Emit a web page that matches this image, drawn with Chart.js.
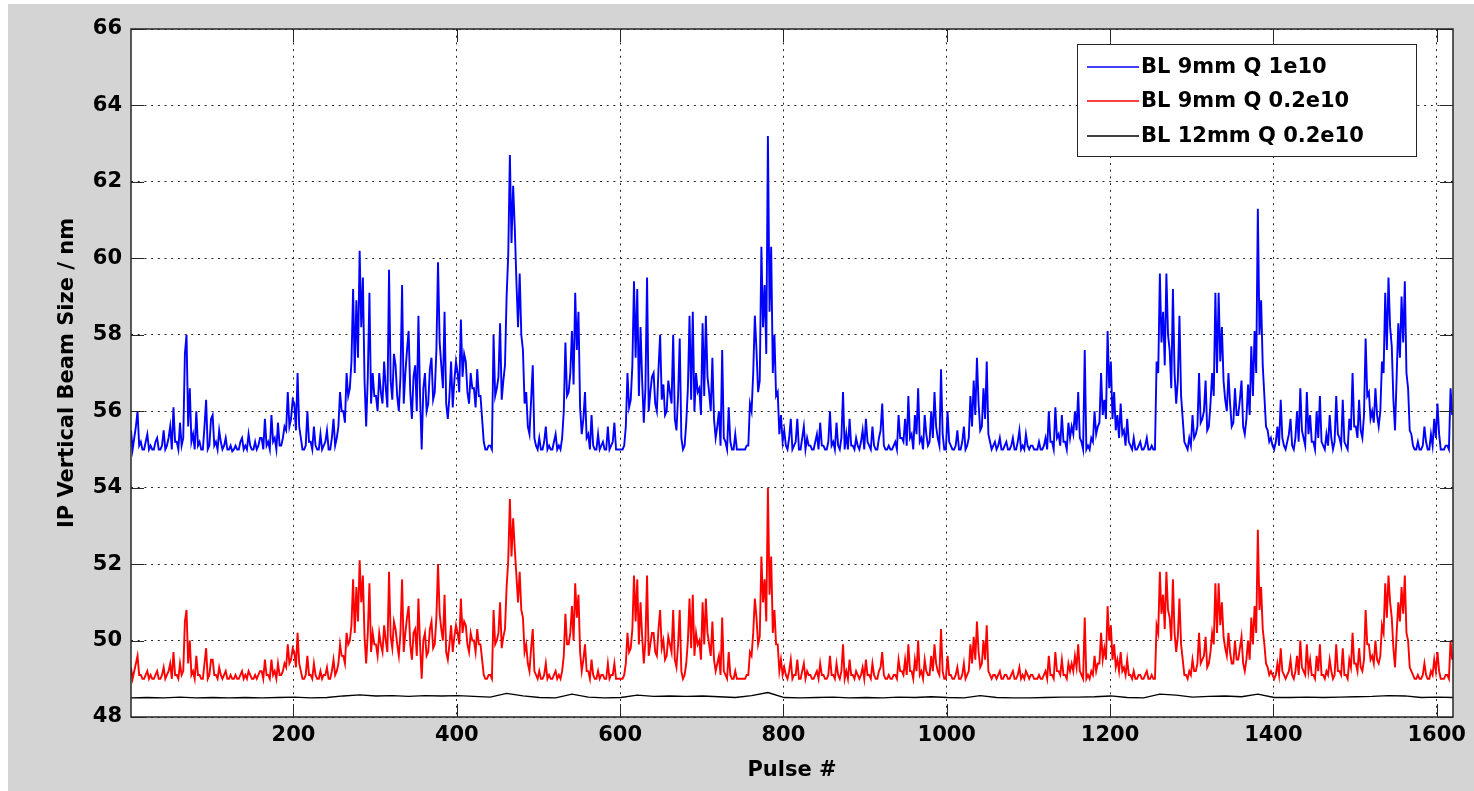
<!DOCTYPE html>
<html>
<head>
<meta charset="utf-8">
<title>IP Vertical Beam Size</title>
<script src="https://cdn.jsdelivr.net/npm/chart.js@4.4.1/dist/chart.umd.min.js"></script>
<style>
  html, body { margin: 0; padding: 0; background: #ffffff; }
  #frame { position: absolute; left: 8px; top: 4px; width: 1466px; height: 787px; background: #d4d4d4; }
  #chart-1 { position: absolute; left: 0; top: 0; }
</style>
</head>
<body>
<div id="frame"></div>
<canvas id="chart-1" width="1474" height="791"></canvas>
<script>
/************************ data ***************************************************/
const seriesLabels = ["BL 9mm Q 1e10", "BL 9mm Q 0.2e10", "BL 12mm Q 0.2e10"];
const seriesColors = ["#0000ff", "#ff0000", "#000000"];
const xTickValues = [200, 400, 600, 800, 1000, 1200, 1400, 1600];
const yTickValues = [48, 50, 52, 54, 56, 58, 60, 62, 64, 66];

// one value every 2 pulses, starting at pulse 1 (one row = 100 pulses)
const pulseStep = 2;
const blueSize = [
  55.5,55.0,55.3,55.6,56.0,55.1,55.2,55.0,55.0,55.2,55.4,55.0,55.1,55.0,55.0,55.2,55.3,55.0,55.0,55.1,55.5,55.0,55.1,55.3,55.6,55.0,56.1,55.2,55.2,55.0,55.7,55.1,55.3,57.5,58.0,55.6,56.6,55.2,55.4,55.0,56.0,55.1,55.2,55.0,55.0,55.6,56.3,55.0,55.1,55.8,
  55.9,55.1,55.2,55.0,55.5,55.2,55.0,55.1,55.3,55.0,55.0,55.1,54.95,55.0,55.1,55.0,55.0,55.2,55.3,55.0,55.1,55.0,55.4,55.1,55.0,55.0,55.2,55.0,55.1,55.3,55.3,55.0,55.8,55.1,55.2,55.0,55.9,55.2,55.3,55.0,55.7,55.1,55.1,55.3,55.6,55.5,56.5,55.6,55.8,56.3,
  56.2,55.5,57.0,55.6,55.3,55.0,55.0,55.1,56.0,55.2,55.2,55.0,55.6,55.1,55.0,55.0,55.4,55.0,55.1,55.2,55.5,55.0,55.0,55.3,55.8,55.1,55.3,55.6,56.5,56.0,56.0,55.7,57.0,56.4,56.6,57.3,59.2,57.0,58.9,57.4,60.2,58.2,59.5,56.8,55.6,56.9,59.1,56.2,57.0,56.4,
  56.4,56.0,57.0,56.5,56.2,57.3,56.6,56.1,59.7,56.8,56.3,57.5,57.2,56.4,56.0,56.9,59.3,56.2,57.0,57.6,58.1,56.5,55.8,56.9,57.2,56.0,58.5,56.4,55.0,56.6,57.0,56.0,56.2,57.1,57.4,56.3,56.5,57.6,59.9,57.8,57.2,56.6,58.6,56.2,55.8,56.4,57.3,56.1,56.8,57.3,
  57.0,56.5,58.4,56.9,57.5,57.3,56.5,56.2,57.0,56.6,56.6,56.1,57.1,56.4,56.4,55.8,55.2,55.0,55.0,55.1,55.1,55.0,58.0,56.4,56.6,56.9,58.3,56.3,56.8,57.2,59.0,60.1,62.7,60.4,61.9,60.8,59.4,58.2,59.6,58.0,57.6,56.2,56.5,55.6,55.4,56.3,57.2,55.3,55.1,55.0,
  55.3,55.0,55.0,55.2,55.6,55.0,55.1,55.0,55.0,55.2,55.4,55.0,55.1,55.0,55.3,56.0,57.8,56.4,56.5,57.0,58.1,56.7,59.1,57.6,58.6,56.1,55.4,55.8,56.5,55.3,55.4,55.0,55.9,55.1,55.0,55.0,55.4,55.0,55.1,55.2,55.0,55.0,55.6,55.0,55.1,55.2,55.7,55.0,55.0,55.0,
  55.0,55.0,55.1,55.6,57.0,56.1,56.3,57.2,59.4,57.4,59.2,56.4,58.2,56.8,55.7,56.6,59.5,56.0,56.5,56.9,57.0,56.2,56.0,57.1,58.0,56.3,56.7,55.9,56.0,56.8,56.5,56.2,58.0,55.8,55.5,56.4,57.9,55.3,55.0,55.1,55.7,56.6,58.5,56.3,58.6,56.0,57.0,56.5,56.6,55.9,
  58.3,56.4,58.5,56.9,56.5,56.0,57.4,55.8,55.3,55.6,56.0,55.1,57.6,55.3,55.2,55.0,56.1,55.2,55.0,55.0,55.4,55.0,55.0,55.0,55.0,55.0,55.0,55.1,55.1,56.2,56.0,57.0,58.5,57.6,56.5,56.8,60.3,58.2,59.3,57.5,63.2,58.6,60.3,57.0,58.0,56.4,56.5,55.4,55.9,55.2,
  55.5,55.1,55.0,55.3,55.8,55.0,55.1,55.2,55.8,55.0,55.0,55.3,55.6,55.0,55.3,55.1,55.1,55.0,55.0,55.2,55.4,55.0,55.7,55.1,55.1,55.0,55.0,55.2,56.0,55.1,55.2,55.0,55.7,55.1,55.0,55.3,56.5,55.0,55.4,55.0,55.8,55.1,55.1,55.0,55.3,55.1,55.0,55.2,55.5,55.0,
  55.8,55.2,55.1,55.0,55.6,55.1,55.0,55.0,55.3,55.5,56.2,55.1,55.0,55.0,55.1,55.0,55.0,55.1,55.2,55.0,55.9,55.3,55.3,55.2,55.8,55.1,56.4,55.3,55.4,55.0,55.9,55.4,56.6,55.2,55.3,55.0,55.9,55.4,55.1,55.2,56.0,55.3,56.5,55.6,55.3,55.1,57.1,55.4,55.0,55.0,
  56.0,55.2,55.1,55.0,55.0,55.1,55.5,55.0,55.0,55.2,55.6,55.0,55.1,55.3,56.4,55.6,56.8,55.9,57.4,56.2,55.5,55.6,56.6,55.8,57.3,55.4,55.2,55.0,55.1,55.2,55.0,55.1,55.3,55.0,55.0,55.1,55.2,55.0,55.0,55.1,55.3,55.0,55.0,55.2,55.5,55.0,55.1,55.0,55.4,55.1,
  55.0,55.1,55.1,55.0,55.0,55.0,55.2,55.0,55.0,55.1,55.3,55.0,56.0,55.2,55.2,55.0,56.1,55.3,55.4,55.1,55.9,55.2,55.2,55.0,55.7,55.3,55.6,55.4,56.0,55.5,56.5,55.3,55.2,55.0,57.6,55.0,55.1,55.0,55.3,55.2,56.0,55.4,55.6,55.7,57.0,55.9,56.3,55.8,58.1,56.6,
  57.3,55.8,56.5,55.5,55.9,55.3,56.2,55.4,55.5,55.1,55.8,55.2,55.1,55.0,55.3,55.0,55.0,55.1,55.2,55.0,55.0,55.1,55.3,55.0,55.0,55.1,55.0,55.0,57.3,57.0,59.6,57.8,58.6,57.2,59.6,58.0,57.6,56.6,59.2,57.0,56.2,56.8,58.5,56.4,55.8,55.2,55.1,55.0,55.3,55.1,
  55.9,55.3,55.4,55.6,57.0,55.7,55.8,56.0,56.8,55.5,55.6,56.2,57.0,56.4,59.1,57.0,59.1,57.3,58.2,56.8,56.3,56.0,57.0,56.2,55.6,55.7,56.6,55.9,55.9,56.3,56.8,55.6,55.4,55.8,56.7,55.9,57.7,56.4,58.1,57.0,61.3,58.0,58.9,57.2,56.4,55.6,55.5,55.2,55.3,55.1,
  55.0,55.2,55.6,55.1,56.3,55.3,55.1,55.0,55.2,55.4,55.8,55.1,55.0,55.3,56.0,55.2,56.6,55.5,55.3,55.1,56.5,55.4,55.9,55.2,55.2,55.0,56.0,55.3,56.4,55.2,55.1,55.0,55.4,55.1,55.9,55.3,55.0,55.2,56.4,55.4,55.3,55.1,56.3,55.2,55.1,55.0,55.8,55.5,57.0,55.6,
  55.6,55.3,56.3,55.5,55.3,55.9,57.9,56.4,56.5,55.8,56.0,55.7,56.6,55.9,55.6,56.0,57.3,57.0,59.1,57.6,59.5,58.2,57.7,56.3,55.5,56.9,58.3,57.4,59.0,57.8,59.4,57.0,56.6,55.5,55.4,55.1,55.0,55.0,55.2,55.0,55.0,55.1,55.6,55.2,55.0,55.0,55.4,55.1,55.8,55.3,
  56.2,55.4,55.0,55.0,55.0,55.1,55.1,55.0,56.6,55.9
];
const redSize = [
  49.3,49.0,49.2,49.4,49.6,49.1,49.1,49.0,49.0,49.1,49.2,49.0,49.1,49.0,49.0,49.1,49.2,49.0,49.0,49.1,49.3,49.0,49.1,49.2,49.4,49.0,49.7,49.1,49.1,49.0,49.4,49.1,49.2,50.5,50.8,49.4,50.0,49.1,49.2,49.0,49.6,49.1,49.1,49.0,49.0,49.4,49.8,49.0,49.1,49.5,
  49.5,49.1,49.1,49.0,49.3,49.1,49.0,49.1,49.2,49.0,49.0,49.1,49.0,49.0,49.1,49.0,49.0,49.1,49.2,49.0,49.1,49.0,49.2,49.1,49.0,49.0,49.1,49.0,49.1,49.2,49.2,49.0,49.5,49.1,49.1,49.0,49.5,49.1,49.2,49.0,49.4,49.1,49.1,49.2,49.4,49.3,49.9,49.4,49.5,49.8,
  49.7,49.3,50.2,49.4,49.2,49.0,49.0,49.1,49.6,49.1,49.1,49.0,49.4,49.1,49.0,49.0,49.2,49.0,49.1,49.1,49.3,49.0,49.0,49.2,49.5,49.1,49.2,49.4,49.9,49.6,49.6,49.4,50.2,49.9,50.0,50.4,51.6,50.2,51.4,50.5,52.1,51.0,51.7,50.1,49.4,50.2,51.5,49.7,50.2,49.9,
  49.9,49.6,50.2,49.9,49.7,50.4,50.0,49.7,51.8,50.1,49.8,50.5,50.3,49.9,49.6,50.2,51.6,49.7,50.2,50.6,50.9,49.9,49.5,50.2,50.3,49.6,51.1,49.9,49.0,50.0,50.2,49.6,49.7,50.3,50.5,49.8,49.9,50.6,52.0,50.7,50.3,50.0,51.2,49.7,49.5,49.9,50.4,49.7,50.1,50.4,
  50.2,49.9,51.1,50.2,50.5,50.4,49.9,49.7,50.2,50.0,50.0,49.7,50.3,49.9,49.9,49.5,49.1,49.0,49.0,49.1,49.1,49.0,50.8,49.9,50.0,50.2,51.0,49.8,50.1,50.3,51.4,52.1,53.7,52.2,53.2,52.4,51.7,51.0,51.8,50.8,50.6,49.7,49.9,49.4,49.2,49.8,50.3,49.2,49.1,49.0,
  49.2,49.0,49.0,49.1,49.4,49.0,49.1,49.0,49.0,49.1,49.2,49.0,49.1,49.0,49.2,49.6,50.7,49.9,49.9,50.2,50.9,50.0,51.5,50.6,51.2,49.7,49.2,49.5,49.9,49.2,49.2,49.0,49.5,49.1,49.0,49.0,49.2,49.0,49.1,49.1,49.0,49.0,49.4,49.0,49.1,49.1,49.4,49.0,49.0,49.0,
  49.0,49.0,49.1,49.4,50.2,49.7,49.8,50.3,51.7,50.5,51.6,49.9,51.0,50.1,49.4,50.0,51.7,49.6,49.9,50.2,50.2,49.7,49.6,50.3,50.8,49.8,50.0,49.5,49.6,50.1,49.9,49.7,50.8,49.5,49.3,49.9,50.8,49.2,49.0,49.1,49.4,50.0,51.1,49.8,51.2,49.6,50.2,49.9,50.0,49.5,
  51.0,49.9,51.1,50.2,49.9,49.6,50.5,49.5,49.2,49.4,49.6,49.1,50.6,49.2,49.1,49.0,49.7,49.1,49.0,49.0,49.2,49.0,49.0,49.0,49.0,49.0,49.0,49.1,49.1,49.7,49.6,50.2,51.1,50.6,49.9,50.1,52.2,51.0,51.6,50.5,54.0,51.2,52.2,50.2,50.8,49.9,49.9,49.2,49.5,49.1,
  49.3,49.1,49.0,49.2,49.5,49.0,49.1,49.1,49.5,49.0,49.0,49.2,49.4,49.0,49.2,49.1,49.1,49.0,49.0,49.1,49.2,49.0,49.4,49.1,49.1,49.0,49.0,49.1,49.6,49.1,49.1,49.0,49.4,49.1,49.0,49.2,49.9,49.0,49.2,49.0,49.5,49.1,49.1,49.0,49.2,49.1,49.0,49.1,49.3,49.0,
  49.5,49.1,49.1,49.0,49.4,49.1,49.0,49.0,49.2,49.3,49.7,49.1,49.0,49.0,49.1,49.0,49.0,49.1,49.1,49.0,49.5,49.2,49.2,49.1,49.5,49.1,49.9,49.2,49.2,49.0,49.5,49.2,50.0,49.1,49.2,49.0,49.5,49.2,49.1,49.1,49.6,49.2,49.9,49.4,49.2,49.1,50.3,49.2,49.0,49.0,
  49.6,49.1,49.1,49.0,49.0,49.1,49.3,49.0,49.0,49.1,49.4,49.0,49.1,49.2,49.9,49.4,50.1,49.5,50.5,49.7,49.3,49.4,50.0,49.5,50.4,49.2,49.1,49.0,49.1,49.1,49.0,49.1,49.2,49.0,49.0,49.1,49.1,49.0,49.0,49.1,49.2,49.0,49.0,49.1,49.3,49.0,49.1,49.0,49.2,49.1,
  49.0,49.1,49.1,49.0,49.0,49.0,49.1,49.0,49.0,49.1,49.2,49.0,49.6,49.1,49.1,49.0,49.7,49.2,49.2,49.1,49.5,49.1,49.1,49.0,49.4,49.2,49.4,49.2,49.6,49.3,49.9,49.2,49.1,49.0,50.6,49.0,49.1,49.0,49.2,49.1,49.6,49.2,49.4,49.4,50.2,49.5,49.8,49.5,50.9,50.0,
  50.4,49.5,49.9,49.3,49.5,49.2,49.7,49.2,49.3,49.1,49.5,49.1,49.1,49.0,49.2,49.0,49.0,49.1,49.1,49.0,49.0,49.1,49.2,49.0,49.0,49.1,49.0,49.0,50.4,50.2,51.8,50.7,51.2,50.3,51.8,50.8,50.6,50.0,51.6,50.2,49.7,50.1,51.1,49.9,49.5,49.1,49.1,49.0,49.2,49.1,
  49.5,49.2,49.2,49.4,50.2,49.4,49.5,49.6,50.1,49.3,49.4,49.7,50.2,49.9,51.5,50.2,51.5,50.4,51.0,50.1,49.8,49.6,50.2,49.7,49.4,49.4,50.0,49.5,49.5,49.8,50.1,49.4,49.2,49.5,50.0,49.5,50.6,49.9,50.9,50.2,52.9,50.8,51.4,50.3,49.9,49.4,49.3,49.1,49.2,49.1,
  49.0,49.1,49.4,49.1,49.8,49.2,49.1,49.0,49.1,49.2,49.5,49.1,49.0,49.2,49.6,49.1,50.0,49.3,49.2,49.1,49.9,49.2,49.5,49.1,49.1,49.0,49.6,49.2,49.9,49.1,49.1,49.0,49.2,49.1,49.5,49.2,49.0,49.1,49.9,49.2,49.2,49.1,49.8,49.1,49.1,49.0,49.5,49.3,50.2,49.4,
  49.4,49.2,49.8,49.3,49.2,49.5,50.8,49.9,49.9,49.5,49.6,49.4,50.0,49.5,49.4,49.6,50.4,50.2,51.5,50.6,51.7,51.0,50.6,49.8,49.3,50.2,51.0,50.5,51.4,50.7,51.7,50.2,50.0,49.3,49.2,49.1,49.0,49.0,49.1,49.0,49.0,49.1,49.4,49.1,49.0,49.0,49.2,49.1,49.5,49.2,
  49.7,49.2,49.0,49.0,49.0,49.1,49.1,49.0,50.0,49.5
];
// black trace is nearly flat, one value every 20 pulses
const blackStep = 20;
const blackSize = [
  48.50,48.51,48.50,48.52,48.50,48.51,48.50,48.51,48.50,48.51,
  48.52,48.50,48.51,48.55,48.58,48.55,48.56,48.54,48.56,48.55,
  48.56,48.54,48.52,48.62,48.55,48.51,48.50,48.60,48.52,48.50,
  48.51,48.57,48.54,48.55,48.54,48.55,48.53,48.51,48.56,48.64,
  48.51,48.50,48.51,48.52,48.50,48.51,48.50,48.52,48.51,48.53,
  48.51,48.50,48.56,48.51,48.50,48.50,48.51,48.52,48.52,48.53,
  48.55,48.51,48.50,48.60,48.57,48.52,48.54,48.55,48.53,48.60,
  48.51,48.51,48.52,48.51,48.52,48.53,48.54,48.56,48.55,48.51,
  48.52,48.51
];

const pulses = blueSize.map((_, i) => 1 + i * pulseStep);
const blackPulses = blackSize.map((_, i) => 1 + i * blackStep);

function toPoints(xs, ys) {
  return ys.map((y, i) => ({ x: xs[i], y: y }));
}

/************************ axes box, inward ticks and legend *********************/
const axisColor = "#262626";
const gridDash = [2, 4.7];
const textFont = { family: "DejaVu Sans", size: 21, weight: "bold" };

const matlabAxes = {
  id: "matlabAxes",
  beforeDraw(chart) {
    const { ctx, chartArea: a } = chart;
    ctx.save();
    ctx.fillStyle = "#ffffff";
    ctx.fillRect(a.left, a.top, a.right - a.left, a.bottom - a.top);
    ctx.restore();
  },
  afterDraw(chart) {
    const { ctx, chartArea: a, scales } = chart;
    const tick = 13;
    ctx.save();
    ctx.setLineDash([]);
    ctx.strokeStyle = axisColor;
    ctx.lineWidth = 1;
    ctx.beginPath();
    xTickValues.forEach(v => {
      const px = Math.round(scales.x.getPixelForValue(v)) + 0.5;
      ctx.moveTo(px, a.bottom); ctx.lineTo(px, a.bottom - tick);
      ctx.moveTo(px, a.top); ctx.lineTo(px, a.top + tick);
    });
    yTickValues.forEach(v => {
      const py = Math.round(scales.y.getPixelForValue(v)) + 0.5;
      ctx.moveTo(a.left, py); ctx.lineTo(a.left + tick, py);
      ctx.moveTo(a.right, py); ctx.lineTo(a.right - tick, py);
    });
    ctx.stroke();
    ctx.lineWidth = 1.5;
    ctx.strokeRect(a.left, a.top, a.right - a.left, a.bottom - a.top);

    // legend box, top right inside the axes
    const bw = 339, bh = 112;
    const bx = a.right - 376, by = a.top + 15;
    ctx.fillStyle = "#ffffff";
    ctx.fillRect(bx, by, bw, bh);
    ctx.lineWidth = 1;
    ctx.strokeStyle = axisColor;
    ctx.strokeRect(bx + 0.5, by + 0.5, bw, bh);
    const rowY = [23, 57, 92];
    ctx.font = "bold 21px 'DejaVu Sans'";
    ctx.textBaseline = "middle";
    ctx.textAlign = "left";
    seriesLabels.forEach((label, i) => {
      const y = Math.round(by + rowY[i]);
      ctx.lineWidth = 1.6;
      ctx.strokeStyle = seriesColors[i];
      ctx.beginPath();
      ctx.moveTo(bx + 10, y);
      ctx.lineTo(bx + 62, y);
      ctx.stroke();
      ctx.fillStyle = "#000000";
      ctx.fillText(label, bx + 64, y + 1);
    });
    ctx.restore();
  }
};

/************************* CHART INITIALIZATION ******************************/
const ctxA = document.getElementById("chart-1").getContext("2d");
const myChart1 = new Chart(ctxA, {
  type: "line",
  data: {
    datasets: [
      { label: seriesLabels[0], data: toPoints(pulses, blueSize), borderColor: seriesColors[0], borderWidth: 1.9 },
      { label: seriesLabels[1], data: toPoints(pulses, redSize), borderColor: seriesColors[1], borderWidth: 1.9 },
      { label: seriesLabels[2], data: toPoints(blackPulses, blackSize), borderColor: seriesColors[2], borderWidth: 1.3 },
    ],
  },
  options: {
    responsive: false,
    animation: false,
    elements: { point: { radius: 0 }, line: { tension: 0, fill: false, borderJoinStyle: "miter" } },
    layout: { padding: { top: 29, right: 21, left: 0, bottom: 0 } },
    plugins: { legend: { display: false }, tooltip: { enabled: false } },
    scales: {
      x: {
        type: "linear",
        min: 1,
        max: 1620,
        afterBuildTicks: (s) => { s.ticks = xTickValues.map(v => ({ value: v })); },
        afterFit: (s) => { s.height = 74; },
        grid: { color: axisColor, lineWidth: 1, drawTicks: false, borderDash: gridDash },
        border: { display: false, dash: gridDash },
        ticks: { color: "#000000", font: textFont, padding: 6, maxRotation: 0, callback: (v) => String(v) },
        title: { display: true, text: "Pulse #", color: "#000000", font: textFont, padding: { top: 0, bottom: 8 } },
      },
      y: {
        min: 48,
        max: 66,
        afterBuildTicks: (s) => { s.ticks = yTickValues.map(v => ({ value: v })); },
        afterFit: (s) => { s.width = 131; },
        grid: { color: axisColor, lineWidth: 1, drawTicks: false, borderDash: gridDash },
        border: { display: false, dash: gridDash },
        ticks: { color: "#000000", font: textFont, padding: 9, callback: (v) => String(v) },
        title: { display: true, text: "IP Vertical Beam Size / nm", color: "#000000", font: textFont, padding: { top: 55, bottom: 0 } },
      },
    },
  },
  plugins: [matlabAxes],
});
</script>
</body>
</html>
